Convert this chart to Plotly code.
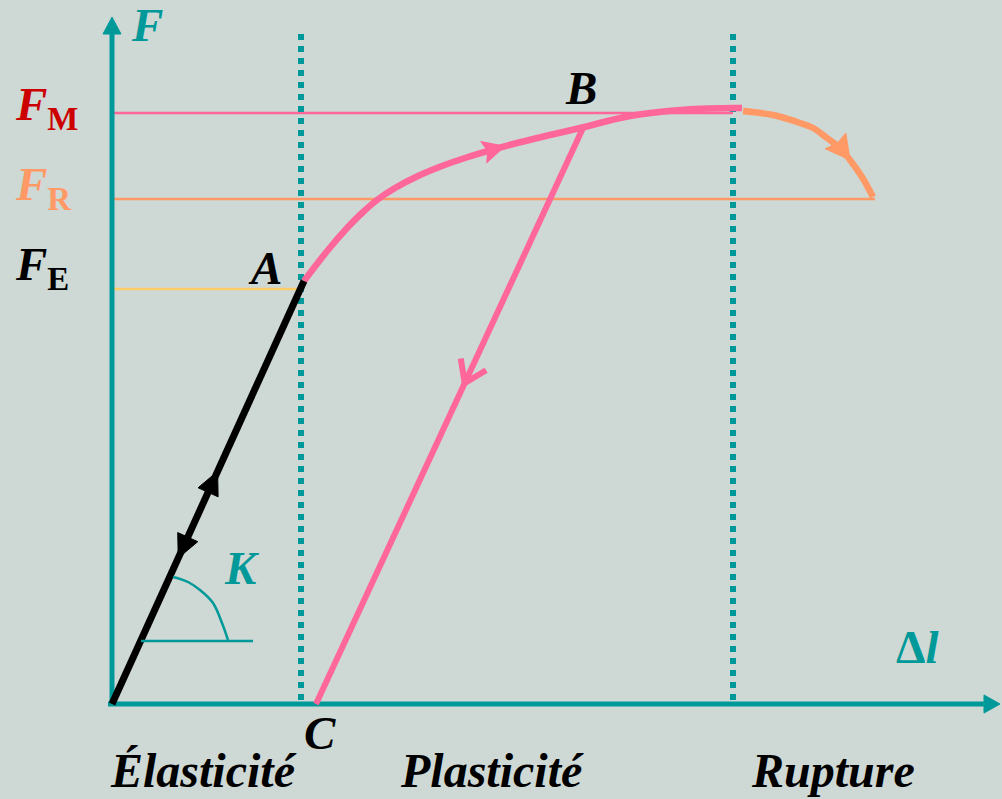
import plotly.graph_objects as go
import numpy as np

# ---- data (Δl and F in drawing units, origin at the axes corner) ----
F_E, F_R, F_M = 415, 505, 591
dl_elastic_limit = 189      # end of elastic zone (dotted line)
dl_rupture_start = 621      # start of rupture zone (dotted line)

elastic_dl = [0, 192]
elastic_F = [0, 423]

plastic_dl = [192, 216, 236, 250, 265, 283, 306, 330, 356, 376, 401, 468, 518, 568, 621, 630]
plastic_F = [423, 454, 477, 491, 504, 516, 528, 538, 547, 553, 560, 576, 588, 594, 596, 596]

rupture_dl = [631, 661, 685, 701, 715, 728, 738, 750, 761]
rupture_F = [593, 589, 582, 576, 566, 556, 544, 527, 507]

unload_dl = [471, 204]
unload_F = [576, 0]

K_base_dl = [29, 141]
K_base_F = [63, 63]
K_arc_dl = [61, 76, 88, 101, 110, 116]
K_arc_F = [127, 122, 114, 101, 81, 64]

zone_labels = ["Élasticité", "Plasticité", "Rupture"]

TEAL = "#009999"
PINK = "#FF6699"
ORANGE = "#FF9966"
BG = "#CED8D4"
FONT = "Liberation Serif"

fig = go.Figure()


def line(x, y, color, width, shape="linear", dash="solid"):
    fig.add_trace(go.Scatter(x=x, y=y, mode="lines",
                             line=dict(color=color, width=width, shape=shape, dash=dash),
                             hoverinfo="skip", showlegend=False))


def unit(dx, dy):
    d = np.hypot(dx, dy)
    return dx / d, dy / d


def head(x, y, dx, dy, color, L, W, notch=0.0):
    ux, uy = unit(dx, dy)
    nx, ny = -uy, ux
    bx, by = x - L * ux, y - L * uy
    px = [x, bx + W * nx, x - (L - notch) * ux, bx - W * nx, x]
    py = [y, by + W * ny, y - (L - notch) * uy, by - W * ny, y]
    fig.add_trace(go.Scatter(x=px, y=py, mode="lines", fill="toself", fillcolor=color,
                             line=dict(color=color, width=1),
                             hoverinfo="skip", showlegend=False))


def chevron(x, y, dx, dy, color, L, angle_deg, width):
    ux, uy = unit(-dx, -dy)
    a = np.radians(angle_deg)
    xs, ys = [], []
    for s in (1, -1):
        ca, sa = np.cos(s * a), np.sin(s * a)
        rx, ry = ux * ca - uy * sa, ux * sa + uy * ca
        xs.append(x + L * rx)
        ys.append(y + L * ry)
    line([xs[0], x, xs[1]], [ys[0], y, ys[1]], color, width)


# level lines
line([0, 621], [F_M, F_M], PINK, 2.5)
line([0, 763], [F_R, F_R], ORANGE, 2.5)
line([0, 190], [F_E, F_E], "#FFCC66", 2.5)

# zone separators
line([dl_elastic_limit, dl_elastic_limit], [4, 671], TEAL, 6, dash="dot")
line([dl_rupture_start, dl_rupture_start], [4, 671], TEAL, 6, dash="dot")

# axes
line([-4, 873], [0, 0], TEAL, 5)
line([0, 0], [-1, 672], TEAL, 5)
head(0, 687, 0, 1, TEAL, 17, 9)
head(888, 0, 1, 0, TEAL, 16, 9)

# curves
line(unload_dl, unload_F, PINK, 6)
line(plastic_dl, plastic_F, PINK, 6.5, shape="spline")
line(rupture_dl, rupture_F, ORANGE, 6.5, shape="spline")
line(elastic_dl, elastic_F, "black", 7)

# K angle
line(K_base_dl, K_base_F, TEAL, 2.5)
line(K_arc_dl, K_arc_F, TEAL, 2.5, shape="spline")

# direction arrows on the curves
edx, edy = elastic_dl[1] - elastic_dl[0], elastic_F[1] - elastic_F[0]
head(0.55 * edx, 0.55 * edy, edx, edy, "black", 23, 11)
head(0.345 * edx, 0.345 * edy, -edx, -edy, "black", 23, 11)

udx, udy = unload_dl[1] - unload_dl[0], unload_F[1] - unload_F[0]
chevron(unload_dl[0] + 0.443 * udx, unload_F[0] + 0.443 * udy, udx, udy, PINK, 25, 34, 6)

tip_dl = 393
tip_F = float(np.interp(tip_dl, plastic_dl, plastic_F))
head(tip_dl, tip_F, plastic_dl[10] - plastic_dl[9], plastic_F[10] - plastic_F[9], PINK, 22, 11, 4)

head(rupture_dl[6], rupture_F[6], rupture_dl[7] - rupture_dl[5], rupture_F[7] - rupture_F[5],
     ORANGE, 24, 13, 3)


def label(x, y, text, color="black", size=47, xanchor="center"):
    fig.add_annotation(x=x, y=y, xref="x", yref="y", text=text, showarrow=False,
                       xanchor=xanchor, yanchor="middle",
                       font=dict(family=FONT, size=size, color=color))


label(35, 679, "<b><i>F</i></b>", TEAL)
label(-99, 597, "<b><i>F</i><sub>M</sub></b>", "#CC0000", xanchor="left")
label(-99, 517, "<b><i>F</i><sub>R</sub></b>", ORANGE, xanchor="left")
label(-99, 437, "<b><i>F</i><sub>E</sub></b>", "black", xanchor="left")
label(153, 436, "<b><i>A</i></b>")
label(469, 616, "<b><i>B</i></b>")
label(208, -29, "<b><i>C</i></b>")
label(129, 136, "<b><i>K</i></b>", TEAL)
label(805, 57, "<b>Δ<i>l</i></b>", TEAL)
label(91, -66, "<b><i>%s</i></b>" % zone_labels[0], size=48)
label(380, -66, "<b><i>%s</i></b>" % zone_labels[1], size=48)
label(721, -66, "<b><i>%s</i></b>" % zone_labels[2], size=48)

fig.update_layout(
    width=1002, height=799,
    margin=dict(l=0, r=0, t=0, b=0),
    paper_bgcolor=BG, plot_bgcolor=BG,
    xaxis=dict(range=[-112, 890], visible=False, fixedrange=True),
    yaxis=dict(range=[-95, 704], visible=False, fixedrange=True),
    showlegend=False,
)

fig.write_html(
    "out.html",
    config={"displayModeBar": False},
    post_script="document.body.style.margin='0px';document.body.style.overflow='hidden';"
                "document.body.style.background='%s';" % BG,
)
